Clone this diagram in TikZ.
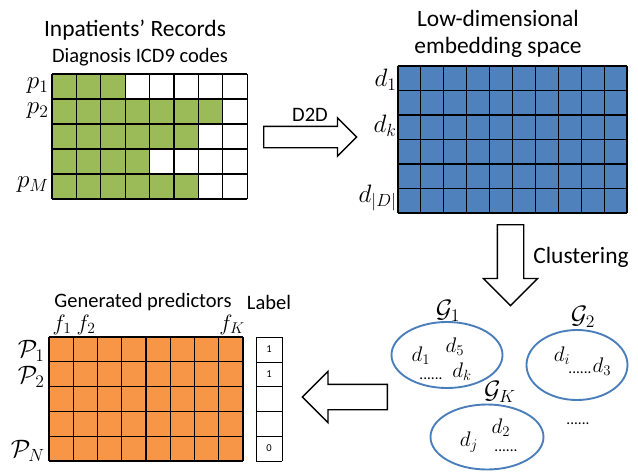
\RequirePackage{fix-cm}
\documentclass[tikz,border=0pt]{standalone}
\usepackage{fontspec}
\setmainfont{Carlito}
\usetikzlibrary{shapes.geometric,shapes.arrows}

\definecolor{cellgreen}{HTML}{9BBB59}
\definecolor{cellblue}{HTML}{4F81BD}
\definecolor{cellorange}{HTML}{F79646}
\definecolor{ringblue}{HTML}{4A7EBB}
\newcommand{\px}{0.03cm}

\begin{document}
\begin{tikzpicture}[x=0.03cm, y=-0.03cm,
    title/.style={font=\fontsize{20}{24}\selectfont},
    subtitle/.style={font=\fontsize{17.5}{20}\selectfont},
    lab/.style={font=\fontsize{21.5}{24}\selectfont, inner sep=1pt},
    inlab/.style={font=\fontsize{18}{20}\selectfont, inner sep=0pt},
    dots/.style={font=\fontsize{13}{14}\selectfont, inner sep=0pt},
    bigarrow/.style={single arrow, draw, line width=1.2pt, fill=white, minimum width=0pt},
    cluster/.style={ellipse, draw=ringblue, line width=1.6pt, inner sep=0pt},
    gridline/.style={line width=0.9pt}]
    \useasboundingbox (0,0) rectangle (638,471);

    % inpatients' records
    \node (rec) [title] at (135,30) {Inpatients’ Records};
    \node (icd) [subtitle] at (140,57) {Diagnosis ICD9 codes};
    \foreach \r/\n in {0/3,1/7,2/6,3/4,4/6}
        \fill[cellgreen] (52,74+25*\r) rectangle (52+24.4*\n,99+25*\r);
    \foreach \i in {0,...,8}
        \draw[gridline] (52+24.4*\i,74) -- (52+24.4*\i,199);
    \foreach \j in {0,...,5}
        \draw[gridline] (52,74+25*\j) -- (247.2,74+25*\j);
    \node (p1) [lab, anchor=east] at (50,86) {$p_1$};
    \node (p2) [lab, anchor=east] at (50,111) {$p_2$};
    \node (pM) [lab, anchor=east] at (50,185) {$p_M$};

    % embedding space
    \node (low) [title] at (498,18) {Low-dimensional};
    \node (emb) [title] at (498,47) {embedding space};
    \fill[cellblue] (398,66) rectangle (627,213);
    \foreach \i in {0,...,10}
        \draw[gridline] (398+22.9*\i,66) -- (398+22.9*\i,213);
    \foreach \j in {0,...,6}
        \draw[gridline] (398,66+24.5*\j) -- (627,66+24.5*\j);
    \node (d1) [lab, anchor=east] at (398,80) {$d_1$};
    \node (dk) [lab, anchor=east] at (398,126) {$d_k$};
    \node (dD) [lab, anchor=east] at (398,198) {$d_{|D|}$};

    % big arrows
    \node (todd) [bigarrow, anchor=tail, minimum height=93*\px, inner xsep=0pt,
        inner ysep=10*\px, single arrow head extend=8.5*\px] at (263,137) {};
    \node (d2d) [subtitle] at (310,115) {D2D};
    \node (tocl) [bigarrow, shape border rotate=270, anchor=tail, minimum height=81*\px,
        inner xsep=12.5*\px, inner ysep=0pt, single arrow head extend=14*\px] at (510.5,224) {};
    \node (clus) [title] at (581,257) {Clustering};
    \node (topr) [bigarrow, shape border rotate=180, anchor=tail, minimum height=85*\px,
        inner xsep=0pt, inner ysep=12*\px, single arrow head extend=13*\px] at (388,397) {};

    % clusters
    \node (g1) [cluster, minimum width=111*\px, minimum height=66*\px] at (447,355) {};
    \node (g2) [cluster, minimum width=101*\px, minimum height=70*\px] at (577,365) {};
    \node (gk) [cluster, minimum width=113*\px, minimum height=65*\px] at (487,437) {};
    \node (g1lab) [lab] at (448,311) {$\mathcal{G}_1$};
    \node (g2lab) [lab] at (583,317) {$\mathcal{G}_2$};
    \node (gklab) [lab] at (500,392) {$\mathcal{G}_K$};
    \node (c1a) [inlab] at (421,356) {$d_1$};
    \node (c1b) [inlab] at (455,347) {$d_5$};
    \node (c1c) [dots] at (431,379) {......};
    \node (c1d) [inlab] at (462,372) {$d_k$};
    \node (c2a) [inlab] at (562,356) {$d_i$};
    \node (c2b) [dots] at (580,373) {......};
    \node (c2c) [inlab] at (602,367) {$d_3$};
    \node (cka) [inlab] at (501,428) {$d_2$};
    \node (ckb) [inlab] at (469,442) {$d_j$};
    \node (ckc) [dots] at (506,451) {......};
    \node (more) [dots] at (578,424) {......};

    % generated predictors
    \node (gen) [subtitle] at (143,302) {Generated predictors};
    \node (lbl) [subtitle] at (269,302) {Label};
    \fill[cellorange] (49,337) rectangle (243,461);
    \foreach \i in {0,...,8}
        \draw[gridline] (49+24.25*\i,337) -- (49+24.25*\i,461);
    \foreach \j in {0,...,5}
        \draw[gridline] (49,337+24.8*\j) -- (243,337+24.8*\j);
    \foreach \j in {0,...,5}
        \draw (256,337+24.8*\j) -- (282,337+24.8*\j);
    \draw (256,337) -- (256,461) (282,337) -- (282,461);
    \node (y1) [font=\fontsize{9}{10}\selectfont] at (269,349.4) {1};
    \node (y2) [font=\fontsize{9}{10}\selectfont] at (269,374.2) {1};
    \node (yN) [font=\fontsize{9}{10}\selectfont] at (269,448.6) {0};
    \node (f1) [lab, font=\fontsize{19}{21}\selectfont] at (62,325) {$f_1$};
    \node (f2) [lab, font=\fontsize{19}{21}\selectfont] at (86,325) {$f_2$};
    \node (fK) [lab, font=\fontsize{19}{21}\selectfont] at (232,325) {$f_K$};
    \node (P1) [lab, anchor=east] at (46,351) {$\mathcal{P}_1$};
    \node (P2) [lab, anchor=east] at (46,377) {$\mathcal{P}_2$};
    \node (PN) [lab, anchor=east] at (46,451) {$\mathcal{P}_N$};
\end{tikzpicture}
\end{document}
